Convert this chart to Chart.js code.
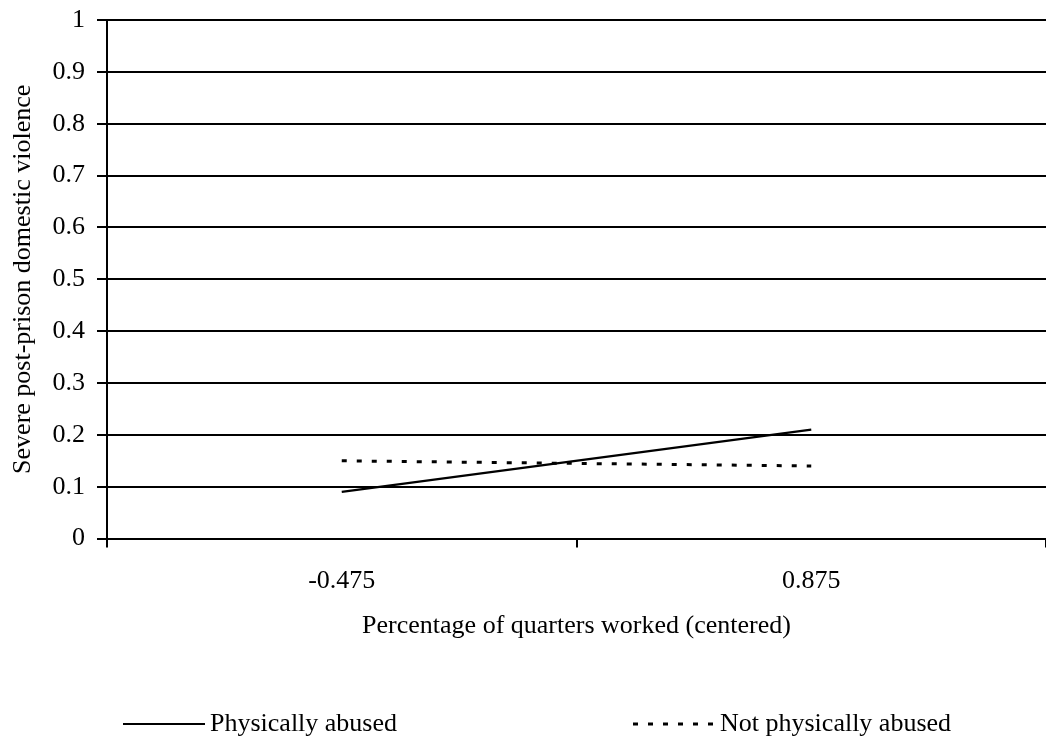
<!DOCTYPE html>
<html>
<head>
<meta charset="utf-8">
<script src="https://cdn.jsdelivr.net/npm/chart.js@4"></script>
<style>
  html, body { margin: 0; padding: 0; background: #fff; }
  #wrap { width: 1046px; height: 744px; }
</style>
</head>
<body>
<div id="wrap"><canvas id="chart" width="1046" height="744"></canvas></div>
<script>
// Data
const categories = ['-0.475', '0.875'];
const abusedValues = [0.09, 0.21];
const notAbusedValues = [0.15, 0.14];
const seriesNames = ['Physically abused', 'Not physically abused'];

const serif = "'Liberation Serif', 'Times New Roman', serif";

// Draws the bottom legend (line sample + label) at fixed spots
const bottomLegend = {
    id: 'bottomLegend',
    afterDraw(chart, args, opts) {
        const ctx = chart.ctx;
        ctx.save();
        chart.data.datasets.forEach(function (ds, i) {
            const x = opts.starts[i];
            ctx.strokeStyle = '#000';
            ctx.lineWidth = ds.borderWidth;
            ctx.setLineDash(ds.borderDash || []);
            ctx.beginPath();
            ctx.moveTo(x, opts.y);
            ctx.lineTo(x + opts.lineLength, opts.y);
            ctx.stroke();
            ctx.setLineDash([]);
            ctx.fillStyle = '#000';
            ctx.font = '26px ' + serif;
            ctx.textBaseline = 'middle';
            ctx.fillText(ds.label, x + opts.lineLength + 5, opts.y);
        });
        ctx.restore();
    }
};

const ctx = document.getElementById('chart').getContext('2d');
new Chart(ctx, {
    type: 'line',
    data: {
        labels: categories,
        datasets: [{
            label: seriesNames[0],
            data: abusedValues,
            borderColor: '#000',
            borderWidth: 2.2,
            pointRadius: 0,
            tension: 0
        }, {
            label: seriesNames[1],
            data: notAbusedValues,
            borderColor: '#000',
            borderWidth: 3,
            borderDash: [5, 10],
            pointRadius: 0,
            tension: 0
        }]
    },
    options: {
        responsive: false,
        animation: false,
        layout: {
            padding: { top: 20, right: 0, bottom: 98, left: 0 }
        },
        scales: {
            x: {
                type: 'category',
                offset: true,
                grid: {
                    offset: true,
                    drawOnChartArea: false,
                    color: '#000',
                    lineWidth: 2,
                    tickLength: 9
                },
                border: { display: true, color: '#000', width: 2 },
                ticks: {
                    color: '#000',
                    padding: 18,
                    maxRotation: 0,
                    font: { family: serif, size: 26 }
                },
                title: {
                    display: true,
                    text: 'Percentage of quarters worked (centered)',
                    color: '#000',
                    font: { family: serif, size: 26 },
                    padding: { top: -4, bottom: 4 }
                }
            },
            y: {
                min: 0,
                max: 1,
                afterFit: function (scale) {
                    scale.width = 107;
                    scale.paddingTop = 0;
                    scale.paddingBottom = 0;
                },
                grid: {
                    color: '#000',
                    lineWidth: 2,
                    tickLength: 10
                },
                border: { display: true, color: '#000', width: 2 },
                ticks: {
                    stepSize: 0.1,
                    color: '#000',
                    padding: 12,
                    font: { family: serif, size: 26 },
                    callback: function (v) { return String(Math.round(v * 10) / 10); }
                },
                title: {
                    display: true,
                    text: 'Severe post-prison domestic violence',
                    color: '#000',
                    font: { family: serif, size: 26 },
                    padding: { top: 8, bottom: 0 }
                }
            }
        },
        plugins: {
            legend: { display: false },
            tooltip: { enabled: false },
            bottomLegend: { y: 724, lineLength: 82, starts: [123, 633] }
        }
    },
    plugins: [bottomLegend]
});
</script>
</body>
</html>
